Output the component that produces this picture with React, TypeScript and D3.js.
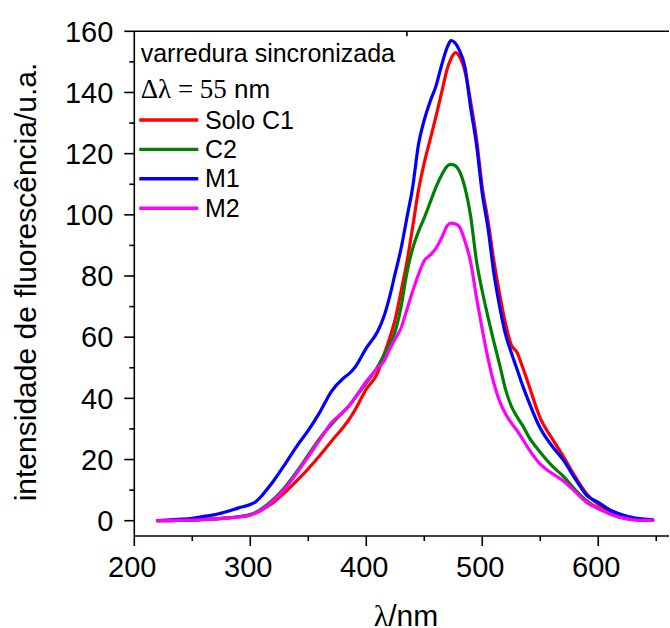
import React from "react";
import * as d3 from "d3";

const wavelengths = [220, 230, 240, 250, 260, 270, 280, 290, 300, 305, 310, 315, 320, 330, 340, 350, 360, 370, 380, 385, 390, 400, 410, 415, 420, 425, 430, 435, 440, 445, 450, 455, 460, 465, 470, 473, 477, 480, 485, 490, 495, 500, 505, 510, 515, 520, 525, 530, 535, 540, 550, 560, 570, 580, 590, 600, 610, 620, 630, 640, 647];

const soloC1 = [0, 0.05, 0.1, 0.2, 0.4, 0.6, 0.9, 1.3, 1.9, 2.6, 3.5, 4.7, 6.0, 9.3, 13, 17, 21.3, 26, 30.5, 33, 36, 43, 48.5, 54, 59.5, 66, 75, 84.5, 96, 108, 117, 124.5, 132, 140, 148, 151, 153, 152, 147, 137, 125, 109, 98, 85, 74, 64.5, 57.5, 55, 50, 44.5, 33.5, 27, 21, 14.5, 8.8, 5.3, 3.2, 1.8, 0.8, 0.4, 0.2];

const c2 = [0, 0.05, 0.1, 0.2, 0.4, 0.6, 0.9, 1.3, 2, 2.8, 4, 5.4, 7, 11, 16, 21.5, 27, 31.5, 35.5, 37.5, 40, 45, 50.5, 54, 57.5, 62, 70, 81, 89, 94.5, 99, 104, 109, 113, 116, 116.5, 116, 114.5, 109, 99.5, 85, 75, 66.5, 58.5, 51, 43, 37.5, 34, 31, 27.5, 22.4, 18, 14.5, 10.2, 6.5, 4, 2.3, 1, 0.4, 0.2, 0.1];

const m1 = [0, 0.3, 0.5, 0.8, 1.4, 2.0, 3.0, 4.2, 5.3, 6.3, 8.2, 10.5, 13, 18.5, 24.3, 29.5, 35.5, 42.3, 46.5, 48, 50, 56.4, 62, 66.5, 73, 81, 89, 99, 109, 123, 131, 137, 142, 149, 155, 157, 156, 154, 148.5, 135, 123, 107, 95.5, 81, 70, 61, 55, 49.5, 44, 39, 30.2, 24.5, 19.8, 13.8, 8.3, 6, 3.5, 2, 1, 0.5, 0.3];

const m2 = [0, 0.05, 0.1, 0.2, 0.35, 0.55, 0.85, 1.2, 1.8, 2.6, 3.6, 5, 6.6, 10.5, 15.5, 21, 26.5, 32, 35.5, 37.5, 40, 45.5, 50, 52, 56, 59.5, 63, 69, 75, 80.5, 85, 86.8, 89, 92.5, 96.5, 97.3, 97, 96.3, 91.5, 84.5, 73, 62.5, 53, 45, 39, 35, 32, 29.5, 26.5, 23.5, 18.5, 15.5, 13, 9.5, 6, 4, 2.2, 1, 0.3, 0.1, 0.1];

const seriesNames = ["Solo C1", "C2", "M1", "M2"];
const seriesValues = [soloC1, c2, m1, m2];
const seriesColors = ["#ff0000", "#008000", "#0000ff", "#ff00ff"];

const xTicks = [200, 300, 400, 500, 600];
const xMinorTicks = [250, 350, 450, 550, 650];
const yTicks = [0, 20, 40, 60, 80, 100, 120, 140, 160];
const yMinorTicks = [10, 30, 50, 70, 90, 110, 130, 150];
const topTicks = [435];

const W = 670;
const H = 628;
const left = 134.3;
const right = 669;
const top = 31.3;
const bottom = 536;

const SANS = "'Liberation Sans', Arial, sans-serif";
const SERIF = "'Liberation Serif', 'Times New Roman', serif";

export default function App() {
  const x = d3.scaleLinear().domain([200, 661]).range([left, right]);
  const y = d3.scaleLinear().domain([-5, 160]).range([bottom, top]);
  const line = d3
    .line<[number, number]>()
    .x((d) => x(d[0]))
    .y((d) => y(d[1]))
    .curve(d3.curveMonotoneX);

  return (
    <svg
      width={W}
      height={H}
      style={{ position: "absolute", left: 0, top: 0, background: "#fff" }}
    >
      <rect x={0} y={0} width={W} height={H} fill="#fff" />
      {/* curves */}
      <g fill="none" strokeWidth={3.2} strokeLinejoin="round" strokeLinecap="round">
        {seriesValues.map((vals, i) => (
          <path
            key={seriesNames[i]}
            d={line(wavelengths.map((w, k) => [w, vals[k]] as [number, number])) || ""}
            stroke={seriesColors[i]}
          />
        ))}
      </g>
      {/* axes */}
      <g stroke="#000" strokeWidth={1.6}>
        <line x1={left} x2={left} y1={top} y2={bottom} />
        <line x1={left} x2={right} y1={bottom} y2={bottom} />
        <line x1={left} x2={right} y1={top} y2={top} />
        {yTicks.map((t) => (
          <line key={"yt" + t} x1={left - 10} x2={left} y1={y(t)} y2={y(t)} />
        ))}
        {yMinorTicks.map((t) => (
          <line key={"ym" + t} x1={left - 5} x2={left} y1={y(t)} y2={y(t)} />
        ))}
        {xTicks.map((t) => (
          <line key={"xt" + t} x1={x(t)} x2={x(t)} y1={bottom} y2={bottom + 10} />
        ))}
        {xMinorTicks.map((t) => (
          <line key={"xm" + t} x1={x(t)} x2={x(t)} y1={bottom} y2={bottom + 5} />
        ))}
        {topTicks.map((t) => (
          <line key={"tt" + t} x1={x(t)} x2={x(t)} y1={top} y2={top + 5} />
        ))}
      </g>
      {/* tick labels */}
      <g fontFamily={SANS} fontSize={29} fill="#000">
        {yTicks.map((t) => (
          <text key={"yl" + t} x={left - 21} y={y(t) + 10.3} textAnchor="end">
            {t}
          </text>
        ))}
        {xTicks.map((t) => (
          <text key={"xl" + t} x={x(t) - 2} y={576.7} textAnchor="middle">
            {t}
          </text>
        ))}
      </g>
      {/* axis titles */}
      <text
        fontFamily={SANS}
        fontSize={30}
        textAnchor="middle"
        transform={`translate(36,282) rotate(-90)`}
      >
        intensidade de fluorescência/u.a.
      </text>
      <text x={406} y={626} fontSize={30} textAnchor="middle">
        <tspan fontFamily={SERIF}>λ</tspan>
        <tspan fontFamily={SANS}>/nm</tspan>
      </text>
      {/* legend */}
      <text x={140.7} y={61.7} fontFamily={SANS} fontSize={25}>
        varredura sincronizada
      </text>
      <text x={140.7} y={98.3} fontSize={27}>
        <tspan fontFamily={SERIF}>Δλ = 55</tspan>
        <tspan fontFamily={SANS} fontSize={26}> nm</tspan>
      </text>
      {seriesNames.map((name, i) => {
        const ly = 120 + i * 29.4;
        return (
          <g key={"lg" + name}>
            <line x1={139.3} x2={198.3} y1={ly} y2={ly} stroke={seriesColors[i]} strokeWidth={3.4} />
            <text x={205} y={ly + 8.6} fontFamily={SANS} fontSize={25}>
              {name}
            </text>
          </g>
        );
      })}
    </svg>
  );
}
